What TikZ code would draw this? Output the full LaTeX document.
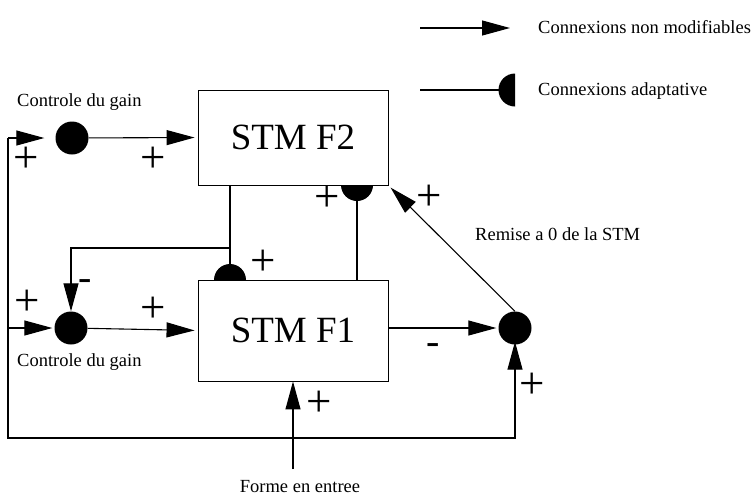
\documentclass[tikz,border=0pt]{standalone}
\usepackage{fontspec}
\setmainfont{Liberation Serif}
\usetikzlibrary{arrows.meta}

\tikzset{
  fl/.style={line width=1.1pt,-{Triangle[length=28pt,width=15pt]}},
  cnx/.style={line width=1.1pt},
  stm/.style={draw,line width=0.9pt,minimum width=190pt,minimum height=95pt,inner sep=0pt,font=\fontsize{37}{40}\selectfont},
  som/.style={circle,fill=black,minimum size=33pt,inner sep=0pt},
  sgn/.style={font=\fontsize{45}{45}\selectfont,inner sep=0pt},
  sgm/.style={font=\fontsize{40}{40}\selectfont,inner sep=0pt},
  lbl/.style={font=\fontsize{18.5}{20}\selectfont,inner sep=0pt}
}

\begin{document}
\begin{tikzpicture}[x=1pt, y=-1pt]
\useasboundingbox (0,0) rectangle (756,496);

\node[stm] (f2) at (293,137.5) {STM F2};
\node[stm,minimum height=101pt] (f1) at (293,330.5) {STM F1};

\node[som] (g2) at (72,138) {};
\node[som] (g1) at (71,328) {};
\node[som] (rz) at (515,328) {};

\coordinate (l2) at (8,138);
\coordinate (l1) at (8,328);
\coordinate (bas) at (8,438);
\coordinate (fe) at (293,469);

\draw[fl] (l2) -- (bas) -| ([yshift=3pt]rz.south);
\draw[fl,shorten >=11pt] (l2) -- (g2.west);
\draw[fl,shorten >=2pt] (l1) -- (g1.west);
\draw[fl,shorten >=3pt] (g2) -- (f2.west);
\draw[fl,shorten >=3pt] (g1) -- (f1.west);
\draw[fl,shorten >=2pt] (f1.east |- rz) -- (rz.west);
\draw[fl,shorten >=3pt] (rz.north) -- (f2.south east);
\draw[fl] (fe) -- (f1.south);

% connexions adaptatives
\coordinate (a1c) at (230,280);
\coordinate (a1) at (230,264);
\coordinate (br) at (230,248);
\coordinate (a2c) at (357,185);
\coordinate (a2) at (357,201);
\draw[cnx] (f2.south -| a1c) -- (a1);
\fill ([xshift=-16pt]a1c) arc[start angle=180,end angle=360,radius=16] -- cycle;
\draw[fl] (br) -| (g1.north);
\draw[cnx] (f1.north -| a2) -- (a2);
\fill ([xshift=-16pt]a2c) arc[start angle=180,end angle=0,radius=16] -- cycle;

\node[lbl,anchor=base west] (cg2) at (17,106.7) {Controle du gain};
\node[lbl,anchor=base west] (cg1) at (17,366.7) {Controle du gain};
\node[lbl,anchor=base west] (rem) at (475,240.7) {Remise a 0 de la STM};
\node[lbl,anchor=base] (frm) at (300,492) {Forme en entree};

\node[sgn] (p1) at (26,160) {+};
\node[sgn] (p2) at (153,160) {+};
\node[sgn] (p3) at (327,199) {+};
\node[sgn] (p4) at (429,198) {+};
\node[sgn] (p5) at (263,263) {+};
\node[sgn] (p6) at (27,303) {+};
\node[sgn] (p7) at (153,310) {+};
\node[sgn] (p8) at (532,386) {+};
\node[sgn] (p9) at (319,404) {+};
\node[sgm] (m1) at (85,285) {-};
\node[sgm] (m2) at (433,349) {-};

% legende
\coordinate (lg1) at (420,28);
\coordinate (lg1e) at (510,28);
\coordinate (lg2) at (420,90);
\coordinate (lg2c) at (515,90);
\draw[fl] (lg1) -- (lg1e);
\draw[cnx] (lg2) -- (lg2c);
\fill ([yshift=-16.5pt]lg2c) arc[start angle=90,end angle=270,radius=16.5] -- cycle;
\node[lbl,anchor=base west] (t1) at (538,33.3) {Connexions non modifiables};
\node[lbl,anchor=base west] (t2) at (538,95) {Connexions adaptative};

\end{tikzpicture}
\end{document}
